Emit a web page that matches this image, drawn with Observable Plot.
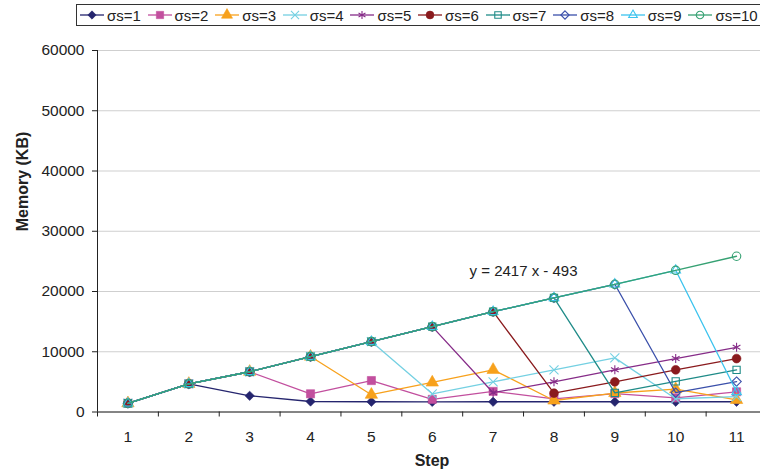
<!DOCTYPE html>
<html>
<head>
<meta charset="utf-8">
<script src="https://cdn.jsdelivr.net/npm/d3@7"></script>
<script src="https://cdn.jsdelivr.net/npm/@observablehq/plot@0.6"></script>
<style>
  html, body { margin: 0; padding: 0; background: #fff; overflow: hidden; }
  body { font-family: "Liberation Sans", Arial, sans-serif; width: 760px; height: 475px; }
  #legend { position: relative; width: 760px; height: 30px; overflow: hidden; }
  #legend .box { position: absolute; left: 76px; top: 4px; width: 720px; height: 20px; border: 1px solid #333; }
  #legend .item { position: absolute; top: 4px; height: 22px; display: flex; align-items: center; }
  #legend .item span { font-size: 15px; color: #222; margin-left: 3px; white-space: nowrap; }
  #chart svg { display: block; }
</style>
</head>
<body>
<div id="legend"><div class="box"></div></div>
<div id="chart"></div>
<script>
// ---- data ----
const steps = [1, 2, 3, 4, 5, 6, 7, 8, 9, 10, 11];
const seriesNames = ["σs=1", "σs=2", "σs=3", "σs=4", "σs=5", "σs=6", "σs=7", "σs=8", "σs=9", "σs=10"];
const s1  = [1450, 4680, 2690, 1740, 1700, 1680, 1700, 1700, 1700, 1700, 1700];
const s2  = [1450, 4680, 6680, 3020, 5220, 2100, 3420, 2190, 3050, 2350, 3350];
const s3  = [1450, 4680, 6680, 9200, 2870, 4900, 7000, 1910, 3150, 3800, 2000];
const s4  = [1450, 4680, 6680, 9200, 11690, 3020, 5010, 7000, 8980, 2200, 2550];
const s5  = [1450, 4680, 6680, 9200, 11690, 14170, 3200, 5010, 7000, 8870, 10740];
const s6  = [1450, 4680, 6680, 9200, 11690, 14170, 16650, 3120, 5010, 7000, 8870];
const s7  = [1450, 4680, 6680, 9200, 11690, 14170, 16650, 18950, 3180, 5080, 7000];
const s8  = [1450, 4680, 6680, 9200, 11690, 14170, 16650, 18950, 21200, 3200, 5050];
const s9  = [1450, 4680, 6680, 9200, 11690, 14170, 16650, 18950, 21200, 23520, 3350];
const s10 = [1450, 4680, 6680, 9200, 11690, 14170, 16650, 18950, 21200, 23520, 25850];
const seriesValues = [s1, s2, s3, s4, s5, s6, s7, s8, s9, s10];
const yTicks = [0, 10000, 20000, 30000, 40000, 50000, 60000];
const stepBounds = [0.5, 1.5, 2.5, 3.5, 4.5, 5.5, 6.5, 7.5, 8.5, 9.5, 10.5, 11.5];
const trendLabel = ["y = 2417 x - 493"];
const trendLabelStep = [7.5];
const trendLabelValue = [23450];
const xTitle = ["Step"];
const yTitle = ["Memory (KB)"];

// ---- styling ----
const colors = ["#25256e", "#c24f9e", "#f7a11c", "#74d0e2", "#862c88", "#8a1a1d", "#1f8b88", "#3a4faa", "#3cc3ee", "#36a173"];
const symbols = ["diamond2", "square", "triangle", "times", "asterisk", "circle", "square2", "diamond2", "triangle2", "circle"];
const filled = [true, true, true, false, false, true, false, false, false, false];
const radius = [4.2, 4.6, 4.6, 4.2, 4.2, 4.4, 4.6, 4.2, 4.6, 4.2];
const FONT = '"Liberation Sans", Arial, sans-serif';

// ---- table ----
const rows = seriesValues.flatMap((vals, k) =>
  vals.map((v, i) => ({series: seriesNames[k], k, step: steps[i], value: v})));

const seriesMarks = seriesNames.flatMap((name, k) => {
  const data = rows.filter(d => d.k === k);
  return [
    Plot.line(data, {x: "step", y: "value", stroke: colors[k], strokeWidth: 1.3}),
    Plot.dot(data, {
      x: "step", y: "value", symbol: symbols[k], r: radius[k],
      fill: filled[k] ? colors[k] : "none",
      stroke: colors[k], strokeWidth: filled[k] ? 0.6 : 1.1
    })
  ];
});

const chart = Plot.plot({
  width: 760,
  height: 445,
  marginTop: 20,
  marginBottom: 63.5,
  marginLeft: 97,
  marginRight: 0,
  style: {fontFamily: FONT, fontSize: "15px", color: "#222", background: "#fff"},
  x: {domain: [0.5, 11.5], range: [97, 766.5]},
  y: {domain: [0, 60000], range: [381.5, 20]},
  marks: [
    Plot.gridY(yTicks, {stroke: "#cfcfcf", strokeOpacity: 1, strokeWidth: 1}),
    Plot.axisY(yTicks, {tickSize: 5, tickPadding: 8, tickFormat: d3.format("d"), fontSize: 15.5, label: null, stroke: "#222"}),
    Plot.axisX(stepBounds, {tickSize: 5, tickFormat: () => "", label: null, stroke: "#222"}),
    Plot.axisX(steps, {tickSize: 0, tickPadding: 19, tickFormat: d3.format("d"), fontSize: 15.5, label: null}),
    Plot.ruleX([0.5], {y1: 0, y2: 60000, stroke: "#222"}),
    Plot.ruleY([0], {stroke: "#222"}),
    ...seriesMarks,
    Plot.text(trendLabel, {x: (d, i) => trendLabelStep[i], y: (d, i) => trendLabelValue[i], text: d => d, fontSize: 15, fill: "#222"}),
    Plot.text(xTitle, {frameAnchor: "bottom", text: d => d, dy: 54, dx: 3, fontSize: 16, fontWeight: "bold", fill: "#222"}),
    Plot.text(yTitle, {frameAnchor: "left", text: d => d, rotate: -90, dx: -75, fontSize: 16, fontWeight: "bold", fill: "#222"})
  ]
});
document.getElementById("chart").appendChild(chart);

// ---- legend ----
const symbolMap = {
  diamond2: d3.symbolDiamond2, square: d3.symbolSquare, triangle: d3.symbolTriangle,
  times: d3.symbolTimes, asterisk: d3.symbolAsterisk, circle: d3.symbolCircle,
  square2: d3.symbolSquare2, triangle2: d3.symbolTriangle2
};
const legend = d3.select("#legend");
seriesNames.forEach((name, k) => {
  const item = legend.append("div").attr("class", "item").style("left", (80 + k * 67.6) + "px");
  const svg = item.append("svg").attr("width", 24).attr("height", 22);
  svg.append("line").attr("x1", 0).attr("x2", 24).attr("y1", 11).attr("y2", 11)
    .attr("stroke", colors[k]).attr("stroke-width", 1.3);
  svg.append("path")
    .attr("transform", "translate(12,11)")
    .attr("d", d3.symbol(symbolMap[symbols[k]], Math.PI * radius[k] * radius[k] * 0.8)())
    .attr("fill", filled[k] ? colors[k] : "none")
    .attr("stroke", colors[k]).attr("stroke-width", filled[k] ? 0.6 : 1.1);
  item.append("span").text(name);
});
</script>
</body>
</html>
